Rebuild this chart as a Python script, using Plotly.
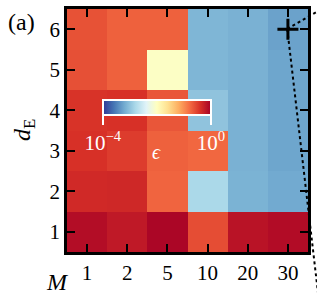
import plotly.graph_objects as go

# Data
M_labels = ["1", "2", "5", "10", "20", "30"]
dE_values = [1, 2, 3, 4, 5, 6]
# log10(epsilon), rows d_E = 1..6, columns M = 1,2,5,10,20,30
log_eps = [
    [-0.11, -0.21, -0.05, -0.59, -0.16, -0.10],
    [-0.34, -0.33, -0.74, -2.80, -3.15, -3.22],
    [-0.40, -0.48, -0.72, -0.76, -3.16, -3.25],
    [-0.42, -0.40, -0.65, -3.00, -3.16, -3.25],
    [-0.61, -0.72, -2.04, -3.12, -3.16, -3.25],
    [-0.62, -0.72, -0.72, -3.12, -3.16, -3.28],
]
cb_tickvals = [-4, 0]
cb_ticktext = ["10<sup>\u22124</sup>", "10<sup>0</sup>"]
marker_M = ["30"]
marker_dE = [6]

rdylbu_r = ["#313695", "#4575b4", "#74add1", "#abd9e9", "#e0f3f8", "#ffffbf",
            "#fee090", "#fdae61", "#f46d43", "#d73027", "#a50026"]
colorscale = [[i / 10, c] for i, c in enumerate(rdylbu_r)]

FONT = "Liberation Serif, Times New Roman, DejaVu Serif, serif"

fig = go.Figure()
fig.add_trace(go.Heatmap(
    x=M_labels, y=dE_values, z=log_eps,
    zmin=-4, zmax=0, colorscale=colorscale,
    colorbar=dict(
        orientation="h", x=0.373, xanchor="center", y=0.626, yanchor="top",
        lenmode="pixels", len=108, thickness=15, xpad=0, ypad=0,
        outlinecolor="white", outlinewidth=2,
        tickvals=cb_tickvals, ticktext=cb_ticktext,
        ticks="outside", ticklen=9, tickwidth=2, tickcolor="white",
        tickfont=dict(family=FONT, size=21, color="white"),
    ),
))
fig.add_trace(go.Scatter(
    x=marker_M, y=marker_dE, mode="markers",
    marker=dict(symbol="cross-thin", size=15, line=dict(width=3, color="black")),
    showlegend=False, cliponaxis=False,
))

# dotted guide lines from the marker (paper coords)
fig.add_shape(type="line", xref="paper", yref="paper",
              x0=0.914, y0=0.918, x1=1.10, y1=1.025,
              line=dict(color="black", width=2, dash="dot"))
fig.add_shape(type="line", xref="paper", yref="paper",
              x0=0.914, y0=0.918, x1=1.045, y1=-0.198,
              line=dict(color="black", width=2, dash="dot"))

axis_common = dict(
    showline=True, linecolor="black", linewidth=2.5, mirror="ticks",
    ticks="inside", ticklen=8, tickwidth=2, tickcolor="black",
    tickfont=dict(family=FONT, size=21, color="black"),
    showgrid=False, zeroline=False,
)
fig.update_xaxes(type="category", range=[-0.5, 5.5], **axis_common)
fig.update_yaxes(range=[0.5, 6.5], tickvals=dE_values, **axis_common)

fig.add_annotation(xref="paper", yref="paper", x=0.015, y=-0.122,
                   xanchor="right", yanchor="middle", showarrow=False,
                   text="<i>M</i>", font=dict(family=FONT, size=24, color="black"))
fig.add_annotation(xref="paper", yref="paper", x=-0.18, y=0.5,
                   xanchor="center", yanchor="middle", showarrow=False, textangle=-90,
                   text="<i>d</i><sub>E</sub>", font=dict(family=FONT, size=24, color="black"))
fig.add_annotation(xref="paper", yref="paper", x=-0.255, y=1.01,
                   xanchor="left", yanchor="top", showarrow=False,
                   text="(a)", font=dict(family=FONT, size=24, color="black"))
fig.add_annotation(xref="paper", yref="paper", x=0.373, y=0.41,
                   xanchor="center", yanchor="middle", showarrow=False,
                   text="<i>\u03f5</i>", font=dict(family=FONT, size=20, color="white"))

fig.update_layout(
    width=317, height=300,
    margin=dict(l=67, r=6, t=9, b=48),
    paper_bgcolor="white", plot_bgcolor="white",
    showlegend=False,
    font=dict(family=FONT),
)
fig.write_html("out.html")
